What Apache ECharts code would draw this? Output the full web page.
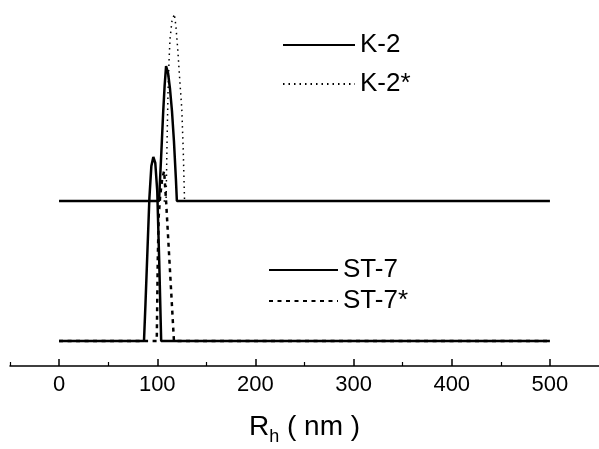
<!DOCTYPE html>
<html><head><meta charset="utf-8">
<script src="https://cdn.jsdelivr.net/npm/echarts@6/dist/echarts.min.js"></script>
<style>html,body{margin:0;padding:0;background:#fff}#c{width:599px;height:449px}</style>
</head><body><div id="c"></div>
<script>
// ---- data ----
const tickValues = [0, 100, 200, 300, 400, 500];
const minorTickValues = [-50, 50, 150, 250, 350, 450];
const K_OFFSET = 140; // vertical offset of the K-2 curves

const rhK2 = [0, 101.8, 104, 106, 107.5, 109, 111, 113, 115, 117, 119, 120, 500];
const intK2 = [0, 0, 45, 88, 115, 135, 128, 112, 90, 60, 22, 0, 0];

const rhK2s = [0, 109, 110, 111, 112, 113, 115, 117.4, 119, 121, 123, 125, 126.5, 127.8, 500];
const intK2s = [0, 0, 60, 110, 140, 162, 180, 187, 175, 150, 120, 92, 50, 0, 0];

const rhST7 = [0, 86.5, 88, 90, 92, 94, 96, 98, 100, 102, 104, 500];
const intST7 = [0, 0, 37, 90, 143, 175, 184, 178, 150, 80, 0, 0];

const rhST7s = [0, 99.5, 100.5, 101.5, 103, 105, 107, 109, 111, 113, 115, 117, 500];
const intST7s = [0, 0, 80, 125, 145, 162, 170, 140, 105, 70, 35, 0, 0];

const pairs = (xs, ys, off) => xs.map((x, i) => [x, ys[i] + (off || 0)]);

const FONT = 'Liberation Sans, Arial, sans-serif';
const chart = echarts.init(document.getElementById('c'), null, {renderer: 'canvas'});
const legendCommon = {
  orient: 'vertical', itemHeight: 10,
  itemStyle: {opacity: 0},
  textStyle: {fontFamily: FONT, fontSize: 26, color: '#000'}
};
chart.setOption({
  animation: false,
  backgroundColor: '#fff',
  grid: {left: 10, right: 0, top: 1, bottom: 83, containLabel: false, outerBoundsMode: 'none'},
  legend: [
    Object.assign({data: ['K-2', 'K-2*'], left: 277, top: 27, itemWidth: 72, itemGap: 13}, legendCommon),
    Object.assign({data: ['ST-7', 'ST-7*'], left: 263, top: 252, itemWidth: 69, itemGap: 5}, legendCommon)
  ],
  xAxis: [{
    type: 'value', min: -50, max: 550,
    name: '{a|R}{s|h}{a| ( nm )}', nameLocation: 'middle', nameGap: 47,
    nameTextStyle: {fontFamily: FONT, fontSize: 28, color: '#000',
      rich: {
        a: {fontFamily: FONT, fontSize: 28, color: '#000', lineHeight: 30, verticalAlign: 'top'},
        s: {fontFamily: FONT, fontSize: 18, color: '#000', lineHeight: 30, verticalAlign: 'top', padding: [15, 0, 0, 0]}
      }},
    axisLine: {onZero: false, lineStyle: {color: '#000', width: 1.5}},
    axisTick: {inside: true, length: 7, lineStyle: {color: '#000', width: 1.5}, customValues: tickValues},
    axisLabel: {fontFamily: FONT, fontSize: 22, color: '#000', margin: 8, customValues: tickValues},
    splitLine: {show: false}
  }, {
    type: 'value', min: -50, max: 550, position: 'bottom',
    axisLine: {show: false, onZero: false},
    axisTick: {inside: true, length: 4, lineStyle: {color: '#000', width: 1.2}, customValues: minorTickValues},
    axisLabel: {show: false},
    splitLine: {show: false}
  }],
  yAxis: {type: 'value', min: -25, max: 340, show: false, splitLine: {show: false}},
  series: [
    {name: 'K-2', type: 'line', symbol: 'none', data: pairs(rhK2, intK2, K_OFFSET),
     lineStyle: {color: '#000', width: 2.5}, itemStyle: {color: '#000'}},
    {name: 'K-2*', type: 'line', symbol: 'none', data: pairs(rhK2s, intK2s, K_OFFSET),
     lineStyle: {color: '#000', width: 1.5, type: [1.5, 4]}, itemStyle: {color: '#000'}},
    {name: 'ST-7', type: 'line', symbol: 'none', data: pairs(rhST7, intST7),
     lineStyle: {color: '#000', width: 2.5}, itemStyle: {color: '#000'}},
    {name: 'ST-7*', type: 'line', symbol: 'none', data: pairs(rhST7s, intST7s),
     lineStyle: {color: '#000', width: 2.5, type: [4, 4.5]}, itemStyle: {color: '#000'}}
  ]
});
</script></body></html>
